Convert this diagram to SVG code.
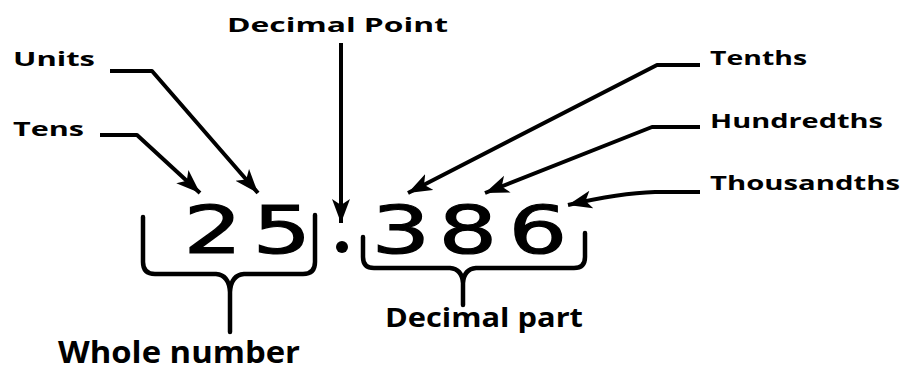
<svg xmlns="http://www.w3.org/2000/svg" width="915" height="372" viewBox="0 0 915 372">
<defs>
<style>
.lbl{font-family:"Open Sans","Liberation Sans",sans-serif;font-weight:bold;font-size:20px;fill:#000}
.big{font-family:"Open Sans","Liberation Sans",sans-serif;font-weight:bold;fill:#000}
.dig{font-family:"DejaVu Sans","Liberation Sans",sans-serif;font-size:66px;fill:#000;stroke:#000;stroke-width:1.2;text-anchor:middle}
.ln{fill:none;stroke:#000;stroke-width:4;stroke-linejoin:round}
.br{fill:none;stroke:#000;stroke-width:4.5;stroke-linecap:round}
</style>
<marker id="ah" markerUnits="userSpaceOnUse" markerWidth="26" markerHeight="20" refX="24" refY="9" orient="auto">
<path d="M0,0 L24,9 L0,18 L6,9 z" fill="#000"/>
</marker>
</defs>
<rect width="915" height="372" fill="#fff"/>
<g id="connectors">
<path class="ln" d="M110,71 H152 L258,193" marker-end="url(#ah)"/>
<path class="ln" d="M100,135 H137 L200,193" marker-end="url(#ah)"/>
<path class="ln" d="M341,43 V223" marker-end="url(#ah)"/>
<path class="ln" d="M700,65 H657 L408,193" marker-end="url(#ah)"/>
<path class="ln" d="M700,127 H652 L485,193" marker-end="url(#ah)"/>
<path class="ln" d="M700,192 H655 Q620,193 568,205" marker-end="url(#ah)"/>
<path class="br" d="M143,217 V262 Q143,274 155,274 H216 Q229,275 230,292 V332 M230,292 Q231,275 244,274 H303 Q315,274 315,262 V215"/>
<path class="br" d="M363,237 V257 Q363,268 374,268 H450 Q462,269 463,283 V305 M463,283 Q464,269 476,268 H574 Q585,268 585,257 V233"/>
</g>
<g id="number">
<text class="dig" transform="translate(213,253) scale(1.4,1)">2</text>
<text class="dig" transform="translate(282,253) scale(1.4,1)">5</text>
<circle cx="342" cy="247" r="6" fill="#000"/>
<text class="dig" transform="translate(401,253) scale(1.4,1)">3</text>
<text class="dig" transform="translate(468,253) scale(1.4,1)">8</text>
<text class="dig" transform="translate(538,253) scale(1.4,1)">6</text>
</g>
<g id="decimal-point"><text class="lbl" x="227" y="32" textLength="221" lengthAdjust="spacingAndGlyphs">Decimal Point</text></g>
<g id="units"><text class="lbl" x="13" y="66" textLength="82" lengthAdjust="spacingAndGlyphs">Units</text></g>
<g id="tens"><text class="lbl" x="13" y="136" textLength="71" lengthAdjust="spacingAndGlyphs">Tens</text></g>
<g id="tenths"><text class="lbl" x="710" y="65" textLength="97" lengthAdjust="spacingAndGlyphs">Tenths</text></g>
<g id="hundredths"><text class="lbl" x="710" y="128" textLength="173" lengthAdjust="spacingAndGlyphs">Hundredths</text></g>
<g id="thousandths"><text class="lbl" x="710" y="190" textLength="190" lengthAdjust="spacingAndGlyphs">Thousandths</text></g>
<g id="whole-number"><text class="big" x="58" y="363" font-size="30" textLength="242" lengthAdjust="spacingAndGlyphs">Whole number</text></g>
<g id="decimal-part"><text class="big" x="385" y="327" font-size="27" textLength="198" lengthAdjust="spacingAndGlyphs">Decimal part</text></g>
</svg>
